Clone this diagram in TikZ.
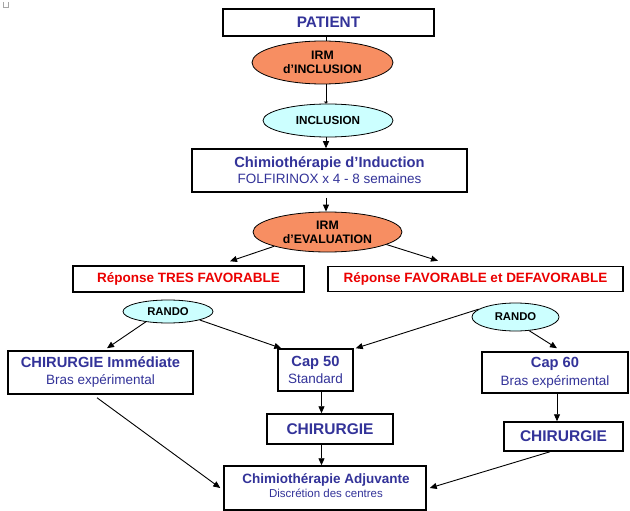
\documentclass[tikz,border=0pt]{standalone}
\usepackage{fontspec}
\setmainfont{Liberation Sans}
\usetikzlibrary{shapes.geometric,arrows.meta,calc}
\definecolor{tblue}{RGB}{51,51,153}
\definecolor{tred}{RGB}{235,0,0}
\definecolor{orangefill}{RGB}{247,142,98}
\definecolor{cyanfill}{RGB}{204,255,255}
\tikzset{
  box/.style={draw, line width=1.5pt, inner sep=0pt, align=center, text=tblue},
  redbox/.style={draw, line width=1.5pt, inner sep=0pt, align=center, text=tred,
    font=\fontsize{13.5}{16}\selectfont\bfseries},
  ell/.style={ellipse, draw, line width=0.8pt, inner sep=0pt, align=center,
    font=\fontsize{12.3}{14}\selectfont\bfseries},
  arr/.style={-{Triangle[length=7pt,width=6pt]}, line width=0.9pt},
  plain/.style={line width=0.9pt},
  tbig/.style={font=\fontsize{15.5}{18}\selectfont\bfseries},
}
\newcommand{\ttl}[1]{{\fontsize{14.7}{17}\selectfont\bfseries #1}}
\newcommand{\stl}[1]{{\fontsize{13.5}{17}\selectfont #1}}
\begin{document}
\begin{tikzpicture}[x=1pt,y=-1pt]
\useasboundingbox[fill=white] (0,0) rectangle (630,511);
% tiny mark top-left
\draw[gray!70, line width=0.5pt] (3.5,2.5) -- (3.5,7) -- (8.5,7) -- (8.5,2.5);

\coordinate (col) at (326,0);
\coordinate (colb) at (321.5,0);
\coordinate (colc) at (557,0);

\node[box, minimum width=211pt, minimum height=27pt,
  font=\fontsize{15.3}{16}\selectfont\bfseries] (patient) at (328.5,22.5) {PATIENT};
\node[ell, fill=orangefill, minimum width=141pt, minimum height=43pt] (irm1) at (322.5,62.5)
  {IRM\\d’INCLUSION};
\node[ell, fill=cyanfill, minimum width=130pt, minimum height=33pt,
  font=\fontsize{11.7}{14}\selectfont\bfseries] (incl) at (328,120.5)
  {INCLUSION};
\node[box, minimum width=275pt, minimum height=43pt, font=\fontsize{13.5}{16}\selectfont] (chimio1) at (329.5,170.5)
  {\ttl{Chimiothérapie d’Induction}\\\stl{FOLFIRINOX x 4 - 8 semaines}};
\node[ell, fill=orangefill, minimum width=149pt, minimum height=40pt] (eval) at (327.5,232)
  {IRM\\d’EVALUATION};
\node[redbox, minimum width=231pt, minimum height=26pt] (resp1) at (188.5,279)
  {Réponse TRES FAVORABLE};
\node[redbox, minimum width=295pt, minimum height=25pt] (resp2) at (475.5,279)
  {Réponse FAVORABLE et DEFAVORABLE};
\node[ell, fill=cyanfill, minimum width=90pt, minimum height=23pt,
  font=\fontsize{11.3}{13}\selectfont\bfseries] (rando1) at (168,311.5) {RANDO};
\node[ell, fill=cyanfill, minimum width=87pt, minimum height=28pt,
  font=\fontsize{11.3}{13}\selectfont\bfseries] (rando2) at (515.5,317) {RANDO};
\node[box, minimum width=185pt, minimum height=43pt, font=\fontsize{13.5}{17}\selectfont] (chirimm) at (100.5,372.5)
  {\ttl{CHIRURGIE Immédiate}\\\stl{Bras expérimental}};
\node[box, minimum width=75pt, minimum height=42pt, font=\fontsize{13.5}{17}\selectfont] (cap50) at (315.5,370)
  {\ttl{Cap 50}\\\stl{Standard}};
\node[box, minimum width=146pt, minimum height=41pt, font=\fontsize{13.5}{18}\selectfont] (cap60) at (555,372.5)
  {\ttl{Cap 60}\\\stl{Bras expérimental}};
\node[box, tbig, minimum width=126pt, minimum height=30pt] (chir2) at (330,429) {CHIRURGIE};
\node[box, tbig, minimum width=119pt, minimum height=29pt] (chir3) at (563.5,436.5) {CHIRURGIE};
\node[box, minimum width=202pt, minimum height=44pt] (adj) at (325,488) {};
\node[align=center, text=tblue, inner sep=0pt, font=\fontsize{11.5}{13.5}\selectfont] (adjtxt) at (326,485.5)
  {{\fontsize{13.5}{13.5}\selectfont\bfseries Chimiothérapie Adjuvante}\\Discrétion des centres};

% connectors
\draw[plain] (patient.south -| col) -- (irm1.north -| col);
\draw[plain, -{Latex[length=2pt,width=5pt]}] (irm1.south -| col) -- (incl.north -| col);
\draw[arr] (incl.south -| col) -- (chimio1.north -| col);
\draw[arr, shorten <=5pt] (chimio1.south -| col) -- (eval.north -| col);
\draw[arr] (eval.195) -- ([xshift=41.5pt,yshift=4pt]resp1.north);
\draw[arr] (eval.348) -- ([xshift=-37.5pt,yshift=5pt]resp2.north);
\draw[arr] (rando1.205) -- ([xshift=6.5pt,yshift=2pt]chirimm.north);
\draw[arr] (rando1.345) -- ([xshift=4pt]cap50.north west);
\draw[arr] (rando2.168) -- ([xshift=2pt]cap50.north east);
\draw[arr] (rando2.315) -- ([xshift=2pt,yshift=3pt]cap60.north);
\draw[arr] (cap50.south -| colb) -- (chir2.north -| colb);
\draw[arr] (chir2.south -| colb) -- (adj.north -| colb);
\draw[arr] (cap60.south -| colc) -- (chir3.north -| colc);
\draw[arr] ([xshift=-3.5pt,yshift=-3pt]chirimm.south) -- ([xshift=-3pt]adj.west);
\draw[arr] ([xshift=-13.5pt]chir3.south) -- ([xshift=3pt]adj.east);
\end{tikzpicture}
\end{document}
